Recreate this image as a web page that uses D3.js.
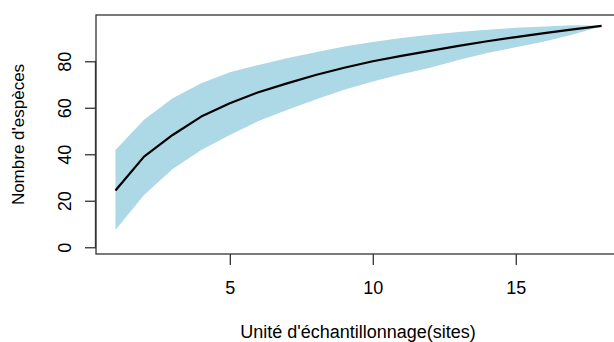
<!DOCTYPE html>
<html>
<head>
<meta charset="utf-8">
<script src="https://cdn.jsdelivr.net/npm/d3@7"></script>
<style>
  body { margin: 0; background: #fff; }
  text { font-family: "Liberation Sans", Arial, sans-serif; fill: #000; }
</style>
</head>
<body>
<div id="chart"></div>
<script>
// species accumulation: sites vs richness, with +/- 2 sd band
const sites = [1, 2, 3, 4, 5, 6, 7, 8, 9, 10, 11, 12, 13, 14, 15, 16, 17, 18];
const richness = [24.4, 39, 48.3, 56.2, 61.9, 66.7, 70.5, 74.1, 77.2, 80, 82.3, 84.5, 86.6, 88.6, 90.4, 92.1, 93.7, 95.2];
const upper = [41.8, 54.8, 64.1, 70.5, 75.3, 78.4, 81.3, 83.9, 86.4, 88.3, 90, 91.4, 92.6, 93.6, 94.4, 95, 95.5, 95.3];
const lower = [7.4, 22.5, 33.7, 41.8, 48.3, 54.3, 59, 63.6, 67.8, 71.3, 74.4, 77.2, 80.5, 83.6, 86, 88.5, 91.5, 95.1];
const xTicks = [5, 10, 15];
const yTicks = [0, 20, 40, 60, 80];

const width = 614, height = 342;
const plot = { left: 96, right: 621, top: 15, bottom: 254 };

const svg = d3.select('#chart')
  .append('svg')
  .attr('width', width)
  .attr('height', height);

const x = d3.scaleLinear().domain([0.32, 18.68]).range([plot.left, plot.right]);
const y = d3.scaleLinear().domain([-2.9, 99.9]).range([plot.bottom, plot.top]);

// confidence band
const area = d3.area()
  .x((d, i) => x(sites[i]))
  .y0((d, i) => y(lower[i]))
  .y1((d, i) => y(upper[i]));

svg.append('path')
  .datum(sites)
  .attr('d', area)
  .attr('fill', '#add8e6');

const line = d3.line()
  .x((d, i) => x(sites[i]))
  .y((d) => y(d));

svg.append('path')
  .datum(richness)
  .attr('d', line)
  .attr('fill', 'none')
  .attr('stroke', '#000')
  .attr('stroke-width', 2.2)
  .attr('stroke-linejoin', 'round');

// box
svg.append('rect')
  .attr('x', plot.left)
  .attr('y', plot.top)
  .attr('width', plot.right - plot.left)
  .attr('height', plot.bottom - plot.top)
  .attr('fill', 'none')
  .attr('stroke', '#333')
  .attr('stroke-width', 1.3);

// axes
const xAxis = d3.axisBottom(x).tickValues(xTicks).tickSize(11).tickPadding(16);
const gx = svg.append('g')
  .attr('transform', 'translate(0,' + plot.bottom + ')')
  .call(xAxis);
gx.select('.domain').remove();
gx.selectAll('line').attr('stroke', '#333').attr('stroke-width', 1.3);
gx.selectAll('text').attr('font-size', 18).style('font-family', '"Liberation Sans", Arial, sans-serif');

const yAxis = d3.axisLeft(y).tickValues(yTicks).tickSize(11).tickPadding(0);
const gy = svg.append('g')
  .attr('transform', 'translate(' + plot.left + ',0)')
  .call(yAxis);
gy.select('.domain')
  .attr('d', 'M-0.5,' + y(0) + 'V' + y(80))
  .attr('stroke', '#333').attr('stroke-width', 1.3);
gy.selectAll('line').attr('stroke', '#333').attr('stroke-width', 1.3);
gy.selectAll('text')
  .attr('font-size', 18)
  .style('font-family', '"Liberation Sans", Arial, sans-serif')
  .attr('x', null).attr('dy', null)
  .attr('text-anchor', 'middle')
  .attr('transform', 'translate(-31,0) rotate(-90)')
  .attr('y', 0)
  .attr('dominant-baseline', 'central');

// axis titles
svg.append('text')
  .attr('x', 358)
  .attr('y', 338)
  .attr('text-anchor', 'middle')
  .attr('font-size', 18)
  .text("Unité d'échantillonnage(sites)");

svg.append('text')
  .attr('transform', 'translate(24,' + (plot.top + plot.bottom) / 2 + ') rotate(-90)')
  .attr('text-anchor', 'middle')
  .attr('font-size', 17)
  .text("Nombre d'espèces");
</script>
</body>
</html>
